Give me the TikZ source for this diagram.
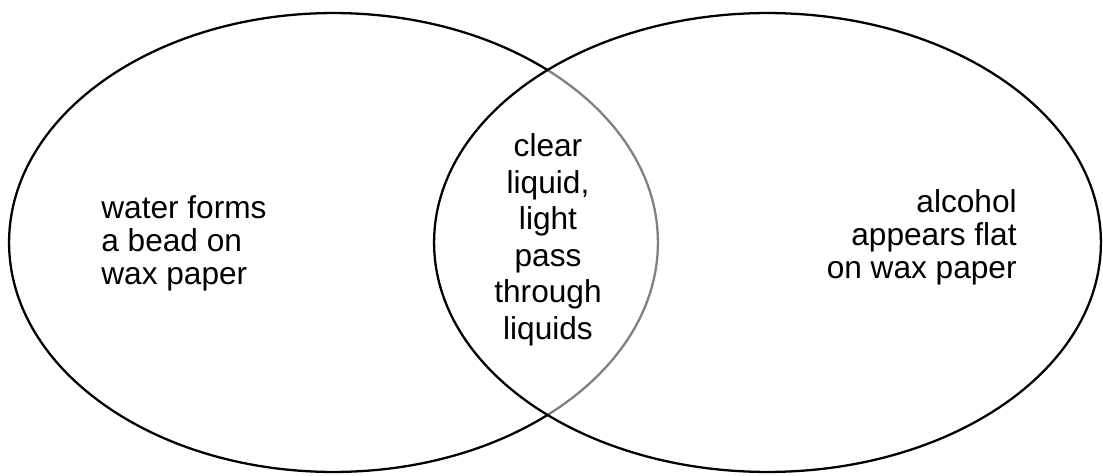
\documentclass[tikz,border=0pt]{standalone}
\usepackage{fontspec}
\setmainfont{Liberation Sans}
\usepackage{tikz}
\usetikzlibrary{positioning}
\definecolor{ringblack}{RGB}{0,0,0}

\begin{document}
\begin{tikzpicture}[x=0.02cm, y=-0.02cm, every node/.style={inner sep=0pt, font=\fontsize{18}{18.8}\selectfont}]
      \useasboundingbox (0,0) rectangle (1103,476);
      \draw[line width=1.3pt,ringblack] (333.5,242.5) ellipse [x radius=6.49cm, y radius=4.59cm];
      \draw[line width=1.3pt,ringblack,fill=white,fill opacity=0.5] (767.5,242.5) ellipse [x radius=6.67cm, y radius=4.59cm];
      \node[anchor=west, align=left] (water) at (101,243) {water forms\\a bead on\\wax paper};
      \node[anchor=east, align=right] (alcohol) at (1017,237) {alcohol\\appears flat\\on wax paper};
      \node[align=center, font=\fontsize{18}{20.8}\selectfont] (both) at (548,240) {clear\\liquid,\\light\\pass\\through\\liquids};
    \end{tikzpicture}
\end{document}
